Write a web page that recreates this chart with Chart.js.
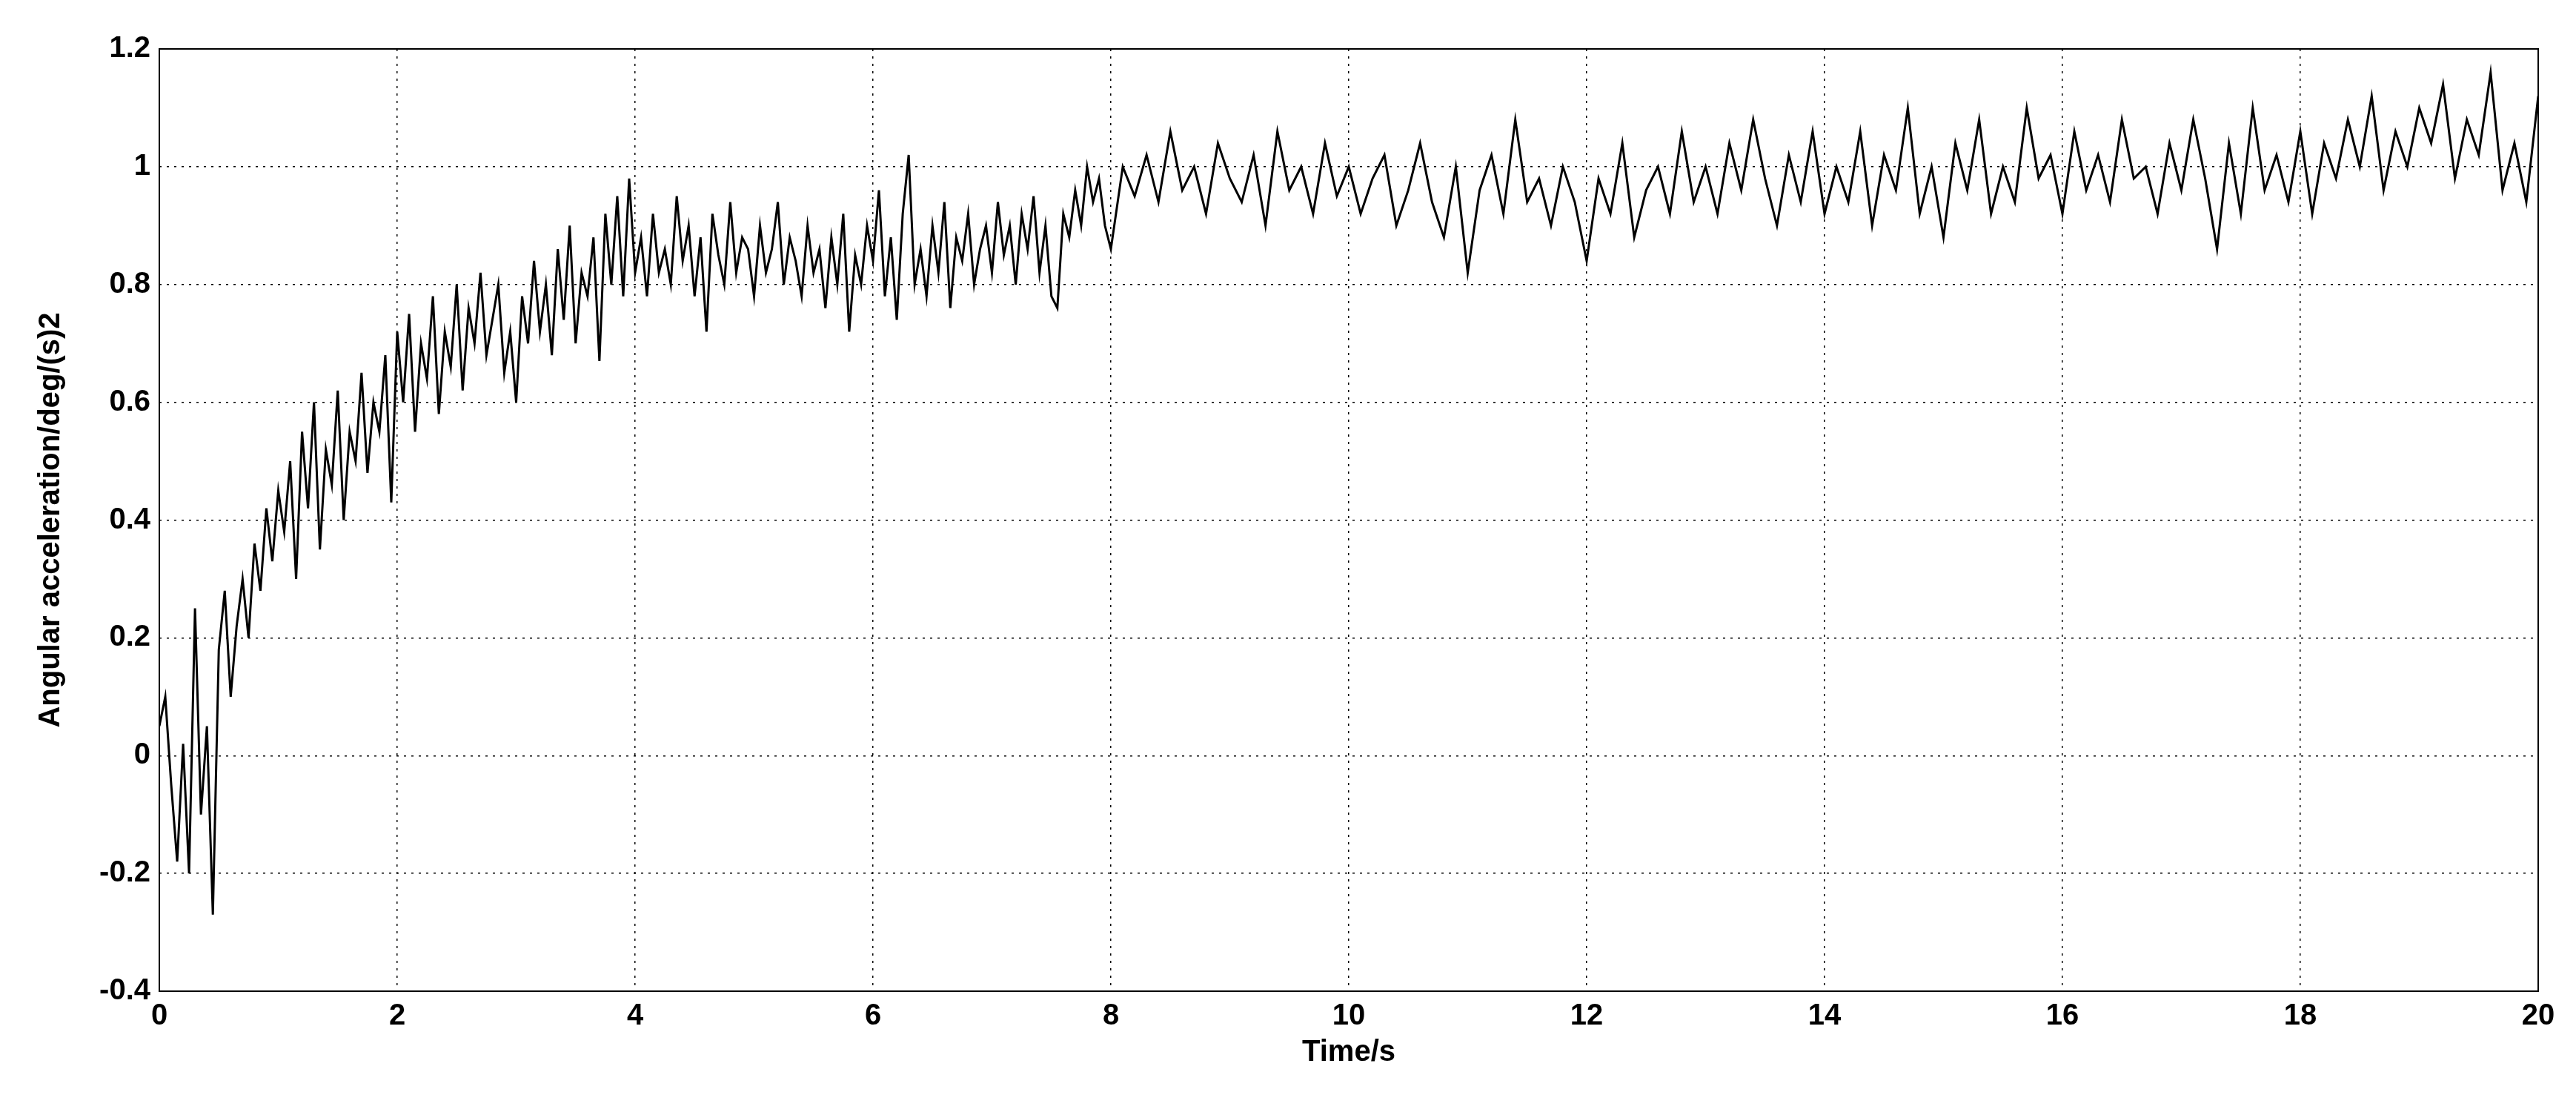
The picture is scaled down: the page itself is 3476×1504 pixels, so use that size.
<!DOCTYPE html>
<html>
<head>
<script src="https://cdn.jsdelivr.net/npm/chart.js"></script>
<style>
  body { margin: 0; background: #fff; }
  #wrap { width: 3476px; height: 1504px; }
</style>
</head>
<body>
<div id="wrap"><canvas id="c"></canvas></div>
<script>
// 0 to 8 s, sampled every 0.05 s
const startA = 0, stepA = 0.05;
const valuesA = [
  0.05,0.10,-0.05,-0.18,0.02,-0.20,0.25,-0.10,0.05,-0.27,0.18,0.28,0.10,0.22,0.30,0.20,0.36,0.28,0.42,0.33,0.45,
  0.38,0.50,0.30,0.55,0.42,0.60,0.35,0.52,0.46,0.62,0.40,0.55,0.50,0.65,0.48,0.60,0.55,0.68,0.43,0.72,
  0.60,0.75,0.55,0.70,0.64,0.78,0.58,0.72,0.66,0.80,0.62,0.76,0.70,0.82,0.68,0.74,0.80,0.65,0.72,0.60,
  0.78,0.70,0.84,0.72,0.80,0.68,0.86,0.74,0.90,0.70,0.82,0.78,0.88,0.67,0.92,0.80,0.95,0.78,0.98,0.82,
  0.88,0.78,0.92,0.82,0.86,0.80,0.95,0.84,0.90,0.78,0.88,0.72,0.92,0.85,0.80,0.94,0.82,0.88,0.86,0.78,
  0.90,0.82,0.86,0.94,0.80,0.88,0.84,0.78,0.90,0.82,0.86,0.76,0.88,0.80,0.92,0.72,0.85,0.80,0.90,0.84,
  0.96,0.78,0.88,0.74,0.92,1.02,0.80,0.86,0.78,0.90,0.82,0.94,0.76,0.88,0.84,0.92,0.80,0.86,0.90,0.82,
  0.94,0.85,0.90,0.80,0.92,0.86,0.95,0.82,0.90,0.78,0.76,0.92,0.88,0.96,0.90,1.00,0.94,0.98,0.90,0.86
];
// 8.1 to 20 s, sampled every 0.1 s
const startB = 8.1, stepB = 0.1;
const valuesB = [
  1.00,0.95,1.02,0.94,1.06,0.96,1.00,0.92,1.04,0.98,
  0.94,1.02,0.90,1.06,0.96,1.00,0.92,1.04,0.95,1.00,
  0.92,0.98,1.02,0.90,0.96,1.04,0.94,0.88,1.00,0.82,
  0.96,1.02,0.92,1.08,0.94,0.98,0.90,1.00,0.94,0.84,
  0.98,0.92,1.04,0.88,0.96,1.00,0.92,1.06,0.94,1.00,
  0.92,1.04,0.96,1.08,0.98,0.90,1.02,0.94,1.06,0.92,
  1.00,0.94,1.06,0.90,1.02,0.96,1.10,0.92,1.00,0.88,
  1.04,0.96,1.08,0.92,1.00,0.94,1.10,0.98,1.02,0.92,
  1.06,0.96,1.02,0.94,1.08,0.98,1.00,0.92,1.04,0.96,
  1.08,0.98,0.86,1.04,0.92,1.10,0.96,1.02,0.94,1.06,
  0.92,1.04,0.98,1.08,1.00,1.12,0.96,1.06,1.00,1.10,
  1.04,1.14,0.98,1.08,1.02,1.16,0.96,1.04,0.94,1.12
];

const points = [];
valuesA.forEach((v, i) => points.push({ x: startA + i * stepA, y: v }));
valuesB.forEach((v, i) => points.push({ x: startB + i * stepB, y: v }));

const font = { family: 'Liberation Sans, Arial, sans-serif', size: 40, weight: 'bold' };

const frame = {
  id: 'frame',
  afterDraw(chart) {
    const a = chart.chartArea, ctx = chart.ctx;
    ctx.save();
    ctx.strokeStyle = '#000';
    ctx.lineWidth = 2;
    ctx.strokeRect(a.left, a.top, a.right - a.left, a.bottom - a.top);
    ctx.restore();
  }
};

new Chart(document.getElementById('c'), {
  type: 'line',
  data: {
    datasets: [{
      data: points,
      borderColor: '#000',
      borderWidth: 3,
      pointRadius: 0,
      tension: 0
    }]
  },
  options: {
    responsive: true,
    maintainAspectRatio: false,
    animation: false,
    layout: { padding: { left: 45, top: 66, right: 51, bottom: 60 } },
    plugins: { legend: { display: false }, tooltip: { enabled: false } },
    scales: {
      x: {
        type: 'linear', min: 0, max: 20,
        afterFit(s) { s.height = 107; },
        ticks: { stepSize: 2, color: '#000', font, padding: 10 },
        grid: { color: '#000', lineWidth: 1.5, drawTicks: false },
        border: { display: false, dash: [3, 7] },
        title: { display: true, text: 'Time/s', color: '#000', font, padding: 0 }
      },
      y: {
        min: -0.4, max: 1.2,
        afterFit(s) { s.width = 170; },
        ticks: {
          stepSize: 0.2, color: '#000', font, padding: 12,
          callback: v => String(Number(v.toFixed(1)))
        },
        grid: { color: '#000', lineWidth: 1.5, drawTicks: false },
        border: { display: false, dash: [3, 7] },
        title: { display: true, text: 'Angular acceleration/deg/(s)2', color: '#000', font, padding: 0 }
      }
    }
  },
  plugins: [frame]
});
</script>
</body>
</html>
